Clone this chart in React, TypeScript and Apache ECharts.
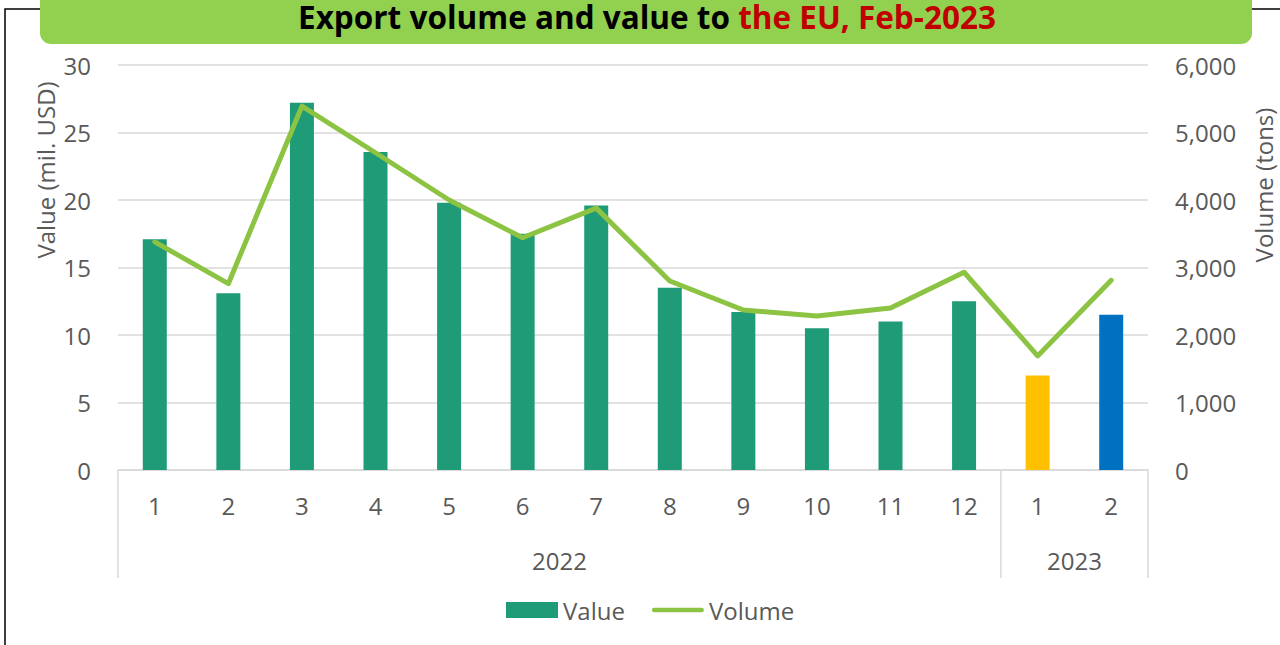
import React, { useEffect, useRef } from 'react';
import * as echarts from 'echarts';

const categories = ['2022-1','2022-2','2022-3','2022-4','2022-5','2022-6','2022-7','2022-8','2022-9','2022-10','2022-11','2022-12','2023-1','2023-2'];
const monthLabels = ['1','2','3','4','5','6','7','8','9','10','11','12','1','2'];
const years = ['2022', '2023'];
const yearSpans = [12, 2];
const valueData = [17.1, 13.1, 27.2, 23.55, 19.8, 17.5, 19.6, 13.5, 11.7, 10.5, 11.0, 12.5, 7.0, 11.5];
const volumeData = [3380, 2760, 5390, 4700, 4000, 3440, 3880, 2800, 2370, 2280, 2400, 2930, 1690, 2810];
const leftTicks = { min: 0, max: 30, interval: 5 };
const rightTicks = { min: 0, max: 6000, interval: 1000 };

const TEAL = '#1F9B78';
const barColors = [TEAL, TEAL, TEAL, TEAL, TEAL, TEAL, TEAL, TEAL, TEAL, TEAL, TEAL, TEAL, '#FFC000', '#0070C0'];
const LINE = '#8CC343';
const FONT = '"Open Sans", "Noto Sans", sans-serif';
const GREY = '#595959';
const GRID = '#D9D9D9';
const FS = 24;

export default function App() {
  const ref = useRef<HTMLDivElement>(null);
  useEffect(() => {
    if (!ref.current) return;
    const chart = echarts.init(ref.current, null, { renderer: 'svg' });
    chart.setOption({
      animation: false,
      backgroundColor: '#ffffff',
      textStyle: { fontFamily: FONT },
      grid: { left: 118, right: 132, top: 65, bottom: 175, containLabel: false },
      legend: {
        left: 501,
        top: 593,
        itemWidth: 52,
        itemHeight: 16,
        itemGap: 27,
        textStyle: { fontSize: FS, color: GREY, fontFamily: FONT },
        data: [
          { name: 'Value', icon: 'rect' },
          { name: 'Volume', icon: 'path://M2.5,0h52a2.5,2.5 0 0 1 0,5h-52a2.5,2.5 0 0 1 0,-5z' },
        ],
      },
      xAxis: {
        type: 'category',
        data: categories,
        boundaryGap: true,
        axisLine: { show: true, lineStyle: { color: GRID, width: 1.5 } },
        axisTick: { show: false },
        axisLabel: {
          color: GREY,
          fontSize: FS,
          fontFamily: FONT,
          margin: 23,
          interval: 0,
          formatter: (_v: string, i: number) => monthLabels[i],
        },
      },
      yAxis: [
        {
          type: 'value',
          ...leftTicks,
          axisLine: { show: false },
          axisTick: { show: false },
          splitLine: { show: true, lineStyle: { color: GRID, width: 1.5 } },
          axisLabel: { color: GREY, fontSize: FS, fontFamily: FONT, margin: 27 },
        },
        {
          type: 'value',
          ...rightTicks,
          axisLine: { show: false },
          axisTick: { show: false },
          splitLine: { show: false },
          axisLabel: {
            color: GREY,
            fontSize: FS,
            fontFamily: FONT,
            margin: 27,
            formatter: (v: number) => v.toLocaleString('en-US'),
          },
        },
      ],
      series: [
        {
          name: 'Value',
          type: 'bar',
          barWidth: 24,
          yAxisIndex: 0,
          itemStyle: { color: TEAL },
          data: valueData.map((v, i) => ({ value: v, itemStyle: { color: barColors[i] } })),
        },
        {
          name: 'Volume',
          type: 'line',
          yAxisIndex: 1,
          symbol: 'none',
          z: 5,
          lineStyle: { color: LINE, width: 5, join: 'round', cap: 'round' },
          itemStyle: { color: LINE },
          data: volumeData,
        },
      ],
    });

    const c0 = chart.convertToPixel({ xAxisIndex: 0 }, 0) as number;
    const c1 = chart.convertToPixel({ xAxisIndex: 0 }, 1) as number;
    const band = c1 - c0;
    const start = c0 - band / 2;
    const yBase = chart.convertToPixel({ yAxisIndex: 0 }, 0) as number;

    const graphics: any[] = [];
    graphics.push({
      type: 'rect',
      shape: { x: 5, y: 9, width: 1400, height: 800 },
      style: { fill: 'none', stroke: '#000', lineWidth: 1.5 },
      z: 0,
    });
    graphics.push({
      type: 'rect',
      shape: { x: 40, y: -30, width: 1212, height: 74, r: 11 },
      style: { fill: '#92D050' },
      z: 1,
    });
    graphics.push({
      type: 'text',
      x: 647,
      y: 16,
      z: 2,
      style: {
        text: '{a|Export volume and value to }{b|the EU, Feb-2023}',
        align: 'center',
        verticalAlign: 'middle',
        rich: {
          a: { fontSize: 31.5, lineHeight: 26, fontWeight: 'bold', fontFamily: FONT, fill: '#000000' },
          b: { fontSize: 31.5, lineHeight: 26, fontWeight: 'bold', fontFamily: FONT, fill: '#C00000' },
        },
      },
    });
    graphics.push({
      type: 'text',
      x: 45,
      y: 170,
      rotation: Math.PI / 2,
      style: { text: 'Value (mil. USD)', align: 'center', verticalAlign: 'middle', fontSize: FS, fontFamily: FONT, fill: GREY },
    });
    graphics.push({
      type: 'text',
      x: 1263,
      y: 185,
      rotation: Math.PI / 2,
      style: { text: 'Volume (tons)', align: 'center', verticalAlign: 'middle', fontSize: FS, fontFamily: FONT, fill: GREY },
    });
    let acc = 0;
    const bounds = [0];
    yearSpans.forEach((s) => { acc += s; bounds.push(acc); });
    bounds.forEach((b) => {
      const x = start + b * band;
      graphics.push({
        type: 'line',
        shape: { x1: x, y1: yBase, x2: x, y2: yBase + 108 },
        style: { stroke: GRID, lineWidth: 1.5 },
      });
    });
    years.forEach((y, i) => {
      const mid = start + (bounds[i] + yearSpans[i] / 2) * band;
      graphics.push({
        type: 'text',
        x: mid,
        y: yBase + 90,
        style: { text: y, align: 'center', verticalAlign: 'middle', fontSize: FS, fontFamily: FONT, fill: GREY },
      });
    });
    chart.setOption({ graphic: graphics });

    return () => chart.dispose();
  }, []);

  return <div ref={ref} style={{ position: 'fixed', left: 0, top: 0, width: 1280, height: 645 }} />;
}
